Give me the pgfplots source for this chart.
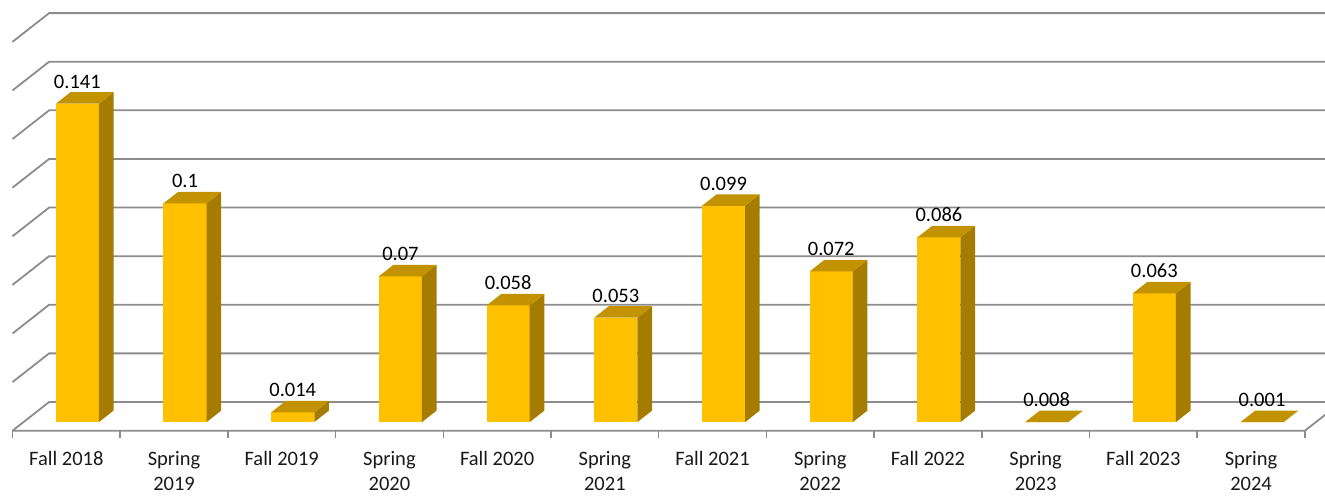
\documentclass[border=0pt]{standalone}
\usepackage{pgfplots}
\usepackage{pgfplotstable}
\pgfplotsset{compat=1.18}
\usepackage{fontspec}
\setmainfont{Carlito}
\definecolor{frontc}{HTML}{FFC000}
\definecolor{sidec}{HTML}{A67C00}
\definecolor{topc}{HTML}{C29200}
\definecolor{gridc}{HTML}{8C8C8C}
\newcommand\lab{\fontsize{20.5}{25}\selectfont}

\pgfplotstableread{
x v
0 0.141
1 0.1
2 0.014
3 0.07
4 0.058
5 0.053
6 0.099
7 0.072
8 0.086
9 0.008
10 0.063
11 0.001
}\data

\begin{document}
\begin{tikzpicture}
\begin{axis}[
  x=107.7pt, y=2430pt,
  xmin=-0.61606, xmax=11.68663, ymin=-0.015638, ymax=0.187243,
  axis line style={draw=none}, tick style={draw=none},
  ytick=\empty, xtick={0,...,11},
  xticklabels={{\strut Fall 2018},{\strut Spring\\\strut 2019},{\strut Fall 2019},{\strut Spring\\\strut 2020},{\strut Fall 2020},{\strut Spring\\\strut 2021},{\strut Fall 2021},{\strut Spring\\\strut 2022},{\strut Fall 2022},{\strut Spring\\\strut 2023},{\strut Fall 2023},{\strut Spring\\\strut 2024}},
  xticklabel style={anchor=north, inner sep=0pt, yshift=45.5pt, align=center, font=\lab, text=black!90},
  clip=true,
]
% walls: back-wall and side-wall gridlines
\pgfplotsforeachungrouped \k in {0,...,8}{%
  \pgfmathsetmacro\g{0.01+0.02*\k}%
  \pgfmathsetmacro\gb{\g+0.01181}%
  \edef\tmp{\noexpand\addplot[gridc, line width=1.8pt, forget plot] coordinates {(-0.5,\g)(-0.1602,\gb)(12.5,\gb)};}%
  \tmp
}
% floor front edge
\addplot[gridc, line width=1.8pt, forget plot] coordinates {(-0.5,0.01)(11.5,0.01)(11.8398,0.02181)};
% category tick marks
\pgfplotsforeachungrouped \k in {0,...,12}{%
  \pgfmathsetmacro\tx{\k-0.5}%
  \edef\tmp{\noexpand\addplot[gridc, line width=1.5pt, forget plot] coordinates {(\tx,0.01)(\tx,0.00712)};}%
  \tmp
}
% 3D bars
\pgfplotsforeachungrouped \i in {0,...,11}{%
  \pgfplotstablegetelem{\i}{v}\of\data
  \pgfmathsetmacro\vv{max(\pgfplotsretval,0.01)}%
  \pgfmathsetmacro\xa{\i-0.2+0.10194}%
  \pgfmathsetmacro\xb{\i+0.2+0.10194}%
  \pgfmathsetmacro\xc{\i+0.2+0.23786}%
  \pgfmathsetmacro\xd{\i-0.2+0.23786}%
  \pgfmathsetmacro\yf{0.01+0.003543}%
  \pgfmathsetmacro\yb{0.01+0.008267}%
  \pgfmathsetmacro\tf{\vv+0.003543}%
  \pgfmathsetmacro\tb{\vv+0.008267}%
  \edef\tmp{%
    \noexpand\addplot[fill=frontc, draw=none, forget plot] coordinates {(\xa,\yf)(\xb,\yf)(\xb,\tf)(\xa,\tf)} -- cycle;
    \noexpand\addplot[fill=sidec, draw=none, forget plot] coordinates {(\xb,\yf)(\xc,\yb)(\xc,\tb)(\xb,\tf)} -- cycle;
    \noexpand\addplot[fill=topc, draw=none, forget plot] coordinates {(\xa,\tf)(\xb,\tf)(\xc,\tb)(\xd,\tb)} -- cycle;
  }%
  \tmp
}
% data labels
\addplot[draw=none, mark=none, nodes near coords, point meta=explicit symbolic,
  every node near coord/.append style={anchor=base, yshift=4pt, inner sep=0pt, font=\lab, text=black}]
  table[x expr=\thisrow{x}+0.10194, y expr={max(\thisrow{v},0.01)+0.008267}, meta=v]{\data};
\end{axis}
\end{tikzpicture}
\end{document}
